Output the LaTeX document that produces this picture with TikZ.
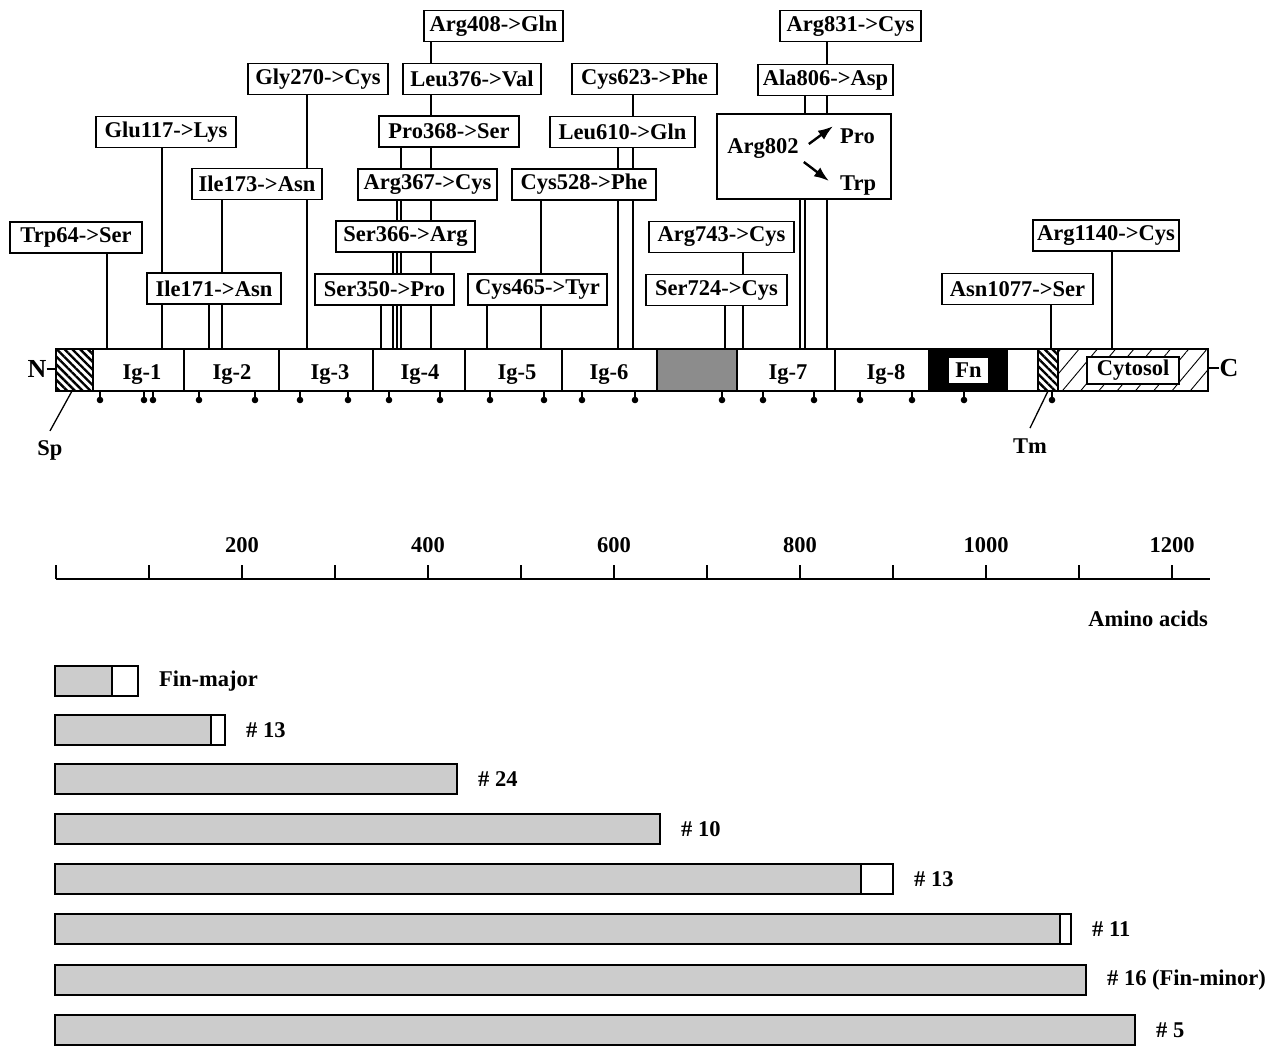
\documentclass[tikz,border=0pt]{standalone}
\usepackage{fontspec}
\setmainfont{Liberation Serif}
\usepackage{tikz}
\usetikzlibrary{arrows.meta,backgrounds,patterns.meta}
\definecolor{clonegray}{gray}{0.80}
\definecolor{spacergray}{gray}{0.55}
\newcommand{\lblfont}{\fontsize{22.5}{26}\selectfont\bfseries}
\newcommand{\termfont}{\fontsize{26}{30}\selectfont\bfseries}
\tikzset{
  mut/.style={draw,line width=1.6pt,fill=white,inner sep=0pt,minimum height=31pt,font=\lblfont},
  stem/.style={line width=1.3pt},
  dom/.style={draw,line width=1.8pt},
  lbl/.style={inner sep=0pt,font=\lblfont},
  hatchsp/.style={pattern={Lines[angle=-45,distance=5.5pt,line width=2.4pt]}},
  hatchcyt/.style={pattern={Lines[angle=50,distance=14pt,line width=0.9pt]}},
  glyco/.style={line width=1.3pt},
  mutarrow/.style={-{Latex[length=15pt,width=11pt]},line width=2.4pt},
  clonebar/.style={draw,line width=1.4pt},
  axisline/.style={line width=1.4pt}
}

\begin{document}
\begin{tikzpicture}[x=1pt,y=-1pt]
  \useasboundingbox (0,0) rectangle (1269,1047);

  % protein bar
  \node[minimum width=1152pt,minimum height=42pt,inner sep=0pt,anchor=north west] (bar) at (56,349) {};
  \draw[dom,hatchsp] (56,349) rectangle (93,391);
  \draw[dom] (93,349) rectangle (657,391);
  \foreach \d in {184,279,373,465,562}
    \draw[dom] (\d,349) -- (\d,391);
  \draw[dom,fill=spacergray] (657,349) rectangle (737,391);
  \draw[dom] (737,349) rectangle (929,391);
  \draw[dom] (835,349) -- (835,391);
  \draw[dom,fill=black] (929,349) rectangle (1007,391);
  \draw[dom] (1007,349) rectangle (1038,391);
  \draw[dom,hatchsp] (1038,349) rectangle (1058,391);
  \draw[dom,hatchcyt] (1058,349) rectangle (1208,391);

  \foreach \n/\x in {1/142,2/232,3/330,4/420,5/517,6/609,7/788,8/886}
    \node[lbl,anchor=base] (ig\n) at (\x,379) {Ig-\n};
  \node[lbl,fill=white,minimum width=39pt,minimum height=25pt] (fn) at (968.5,370) {Fn};
  \node[lbl,draw,line width=1.4pt,fill=white,minimum width=92pt,minimum height=27pt] (cyto) at (1133,370.5) {Cytosol};

  \node[font=\termfont,inner sep=0pt] (nterm) at (37,369) {N};
  \node[font=\termfont,inner sep=0pt] (cterm) at (1229,368) {C};
  \draw[line width=2.5pt] (nterm) -- (nterm -| bar.west);
  \draw[line width=2.5pt] (cterm) -- (cterm -| bar.east);

  % glycosylation sites
  \foreach \g in {100,144,153,199,255,300,348,389,440,490,544,582,635,722,763,814,860,912,964,1052} {
    \draw[glyco] (\g,391) -- (\g,399);
    \fill (\g,400) circle (3.3pt);
  }

  % signal peptide and transmembrane
  \coordinate (spfoot) at (72,391);
  \coordinate (tmfoot) at (1048,391);
  \node[lbl,anchor=base] (splab) at (50,455) {Sp};
  \node[lbl,anchor=base] (tmlab) at (1030,453) {Tm};
  \draw[stem] (spfoot) -- ([yshift=9pt]splab.north);
  \draw[stem] (tmfoot) -- ([yshift=10pt]tmlab.north);

  % mutations
  \foreach \m/\x/\y/\w/\t in {
      64/76/237.5/132/Trp64->Ser,
      117/166/132/140/Glu117->Lys,
      173/257/184/130/Ile173->Asn,
      171/214/288.5/134/Ile171->Asn,
      270/318/79/140/Gly270->Cys,
      408/493.5/26/139/Arg408->Gln,
      376/472/79/138/Leu376->Val,
      368/449/131.5/140/Pro368->Ser,
      367/427.5/184.5/139/Arg367->Cys,
      366/405.5/236.5/139/Ser366->Arg,
      350/384.5/289.5/139/Ser350->Pro,
      465/537.5/289.5/139/Cys465->Tyr,
      528/584/184.5/144/Cys528->Phe,
      610/622.5/132/145/Leu610->Gln,
      623/644.5/79/145/Cys623->Phe,
      831/850.5/26/141/Arg831->Cys,
      806/825.5/80/135/Ala806->Asp,
      743/721.5/237/145/Arg743->Cys,
      724/716.5/290/141/Ser724->Cys,
      1077/1017.5/289/151/Asn1077->Ser,
      1140/1106/235.5/146/Arg1140->Cys}
    \node[mut,minimum width=\w pt] (m\m) at (\x,\y) {\t};

  \node[mut,minimum width=174pt,minimum height=85pt] (m802) at (804,156.5) {};
  \node[lbl,anchor=base] (a802) at (763,153) {Arg802};
  \node[lbl,anchor=base west] (pro) at (840,143) {Pro};
  \node[lbl,anchor=base west] (trp) at (840,190) {Trp};
  \draw[mutarrow] ([shift={(10,-4)}]a802.east) -- ([shift={(-7,-9.5)}]pro.west);
  \draw[mutarrow] ([shift={(5,14)}]a802.east) -- ([shift={(-11,-4)}]trp.west);

  \foreach \m/\x in {64/107,117/162,173/222,171/209,270/307,408/431,376/431,
      368/401,367/397,366/393,350/381,465/487,528/541,610/618,623/633,
      831/827,806/805,802/800,743/743,724/725,1077/1051,1140/1112}
    \coordinate (s\m) at (\x,349);

  \begin{scope}[on background layer]
    \foreach \m in {64,117,173,171,270,408,376,368,367,366,350,465,528,610,623,831,806,802,743,724,1077,1140}
      \draw[stem] (s\m) -- (s\m |- m\m.south);
  \end{scope}

  % scale
  \draw[axisline] (56,579) -- (1210,579);
  \foreach \k in {0,...,12}
    \draw[axisline] ({56+93*\k},579) -- ({56+93*\k},565);
  \foreach \v [count=\i] in {200,400,...,1200}
    \node[lbl] (tick\v) at ({56+186*\i},545) {\v};
  \node[lbl,anchor=east] (aalab) at (1208,619) {Amino acids};

  % cDNA clones
  \foreach \y/\g/\e/\lab in {666/112/138/Fin-major, 715/211/225/\# 13, 764/457/457/\# 24,
      814/660/660/\# 10, 864/861/893/\# 13, 914/1060/1071/\# 11,
      965/1086/1086/{\# 16 (Fin-minor)}, 1015/1135/1135/\# 5} {
    \fill[clonegray] (55,\y) rectangle (\g,\y+30);
    \draw[clonebar] (55,\y) rectangle (\e,\y+30);
    \draw[clonebar] (\g,\y) -- (\g,\y+30);
    \node[lbl,anchor=west] (clone\y) at (\e+21,\y+15) {\lab};
  }
\end{tikzpicture}
\end{document}
